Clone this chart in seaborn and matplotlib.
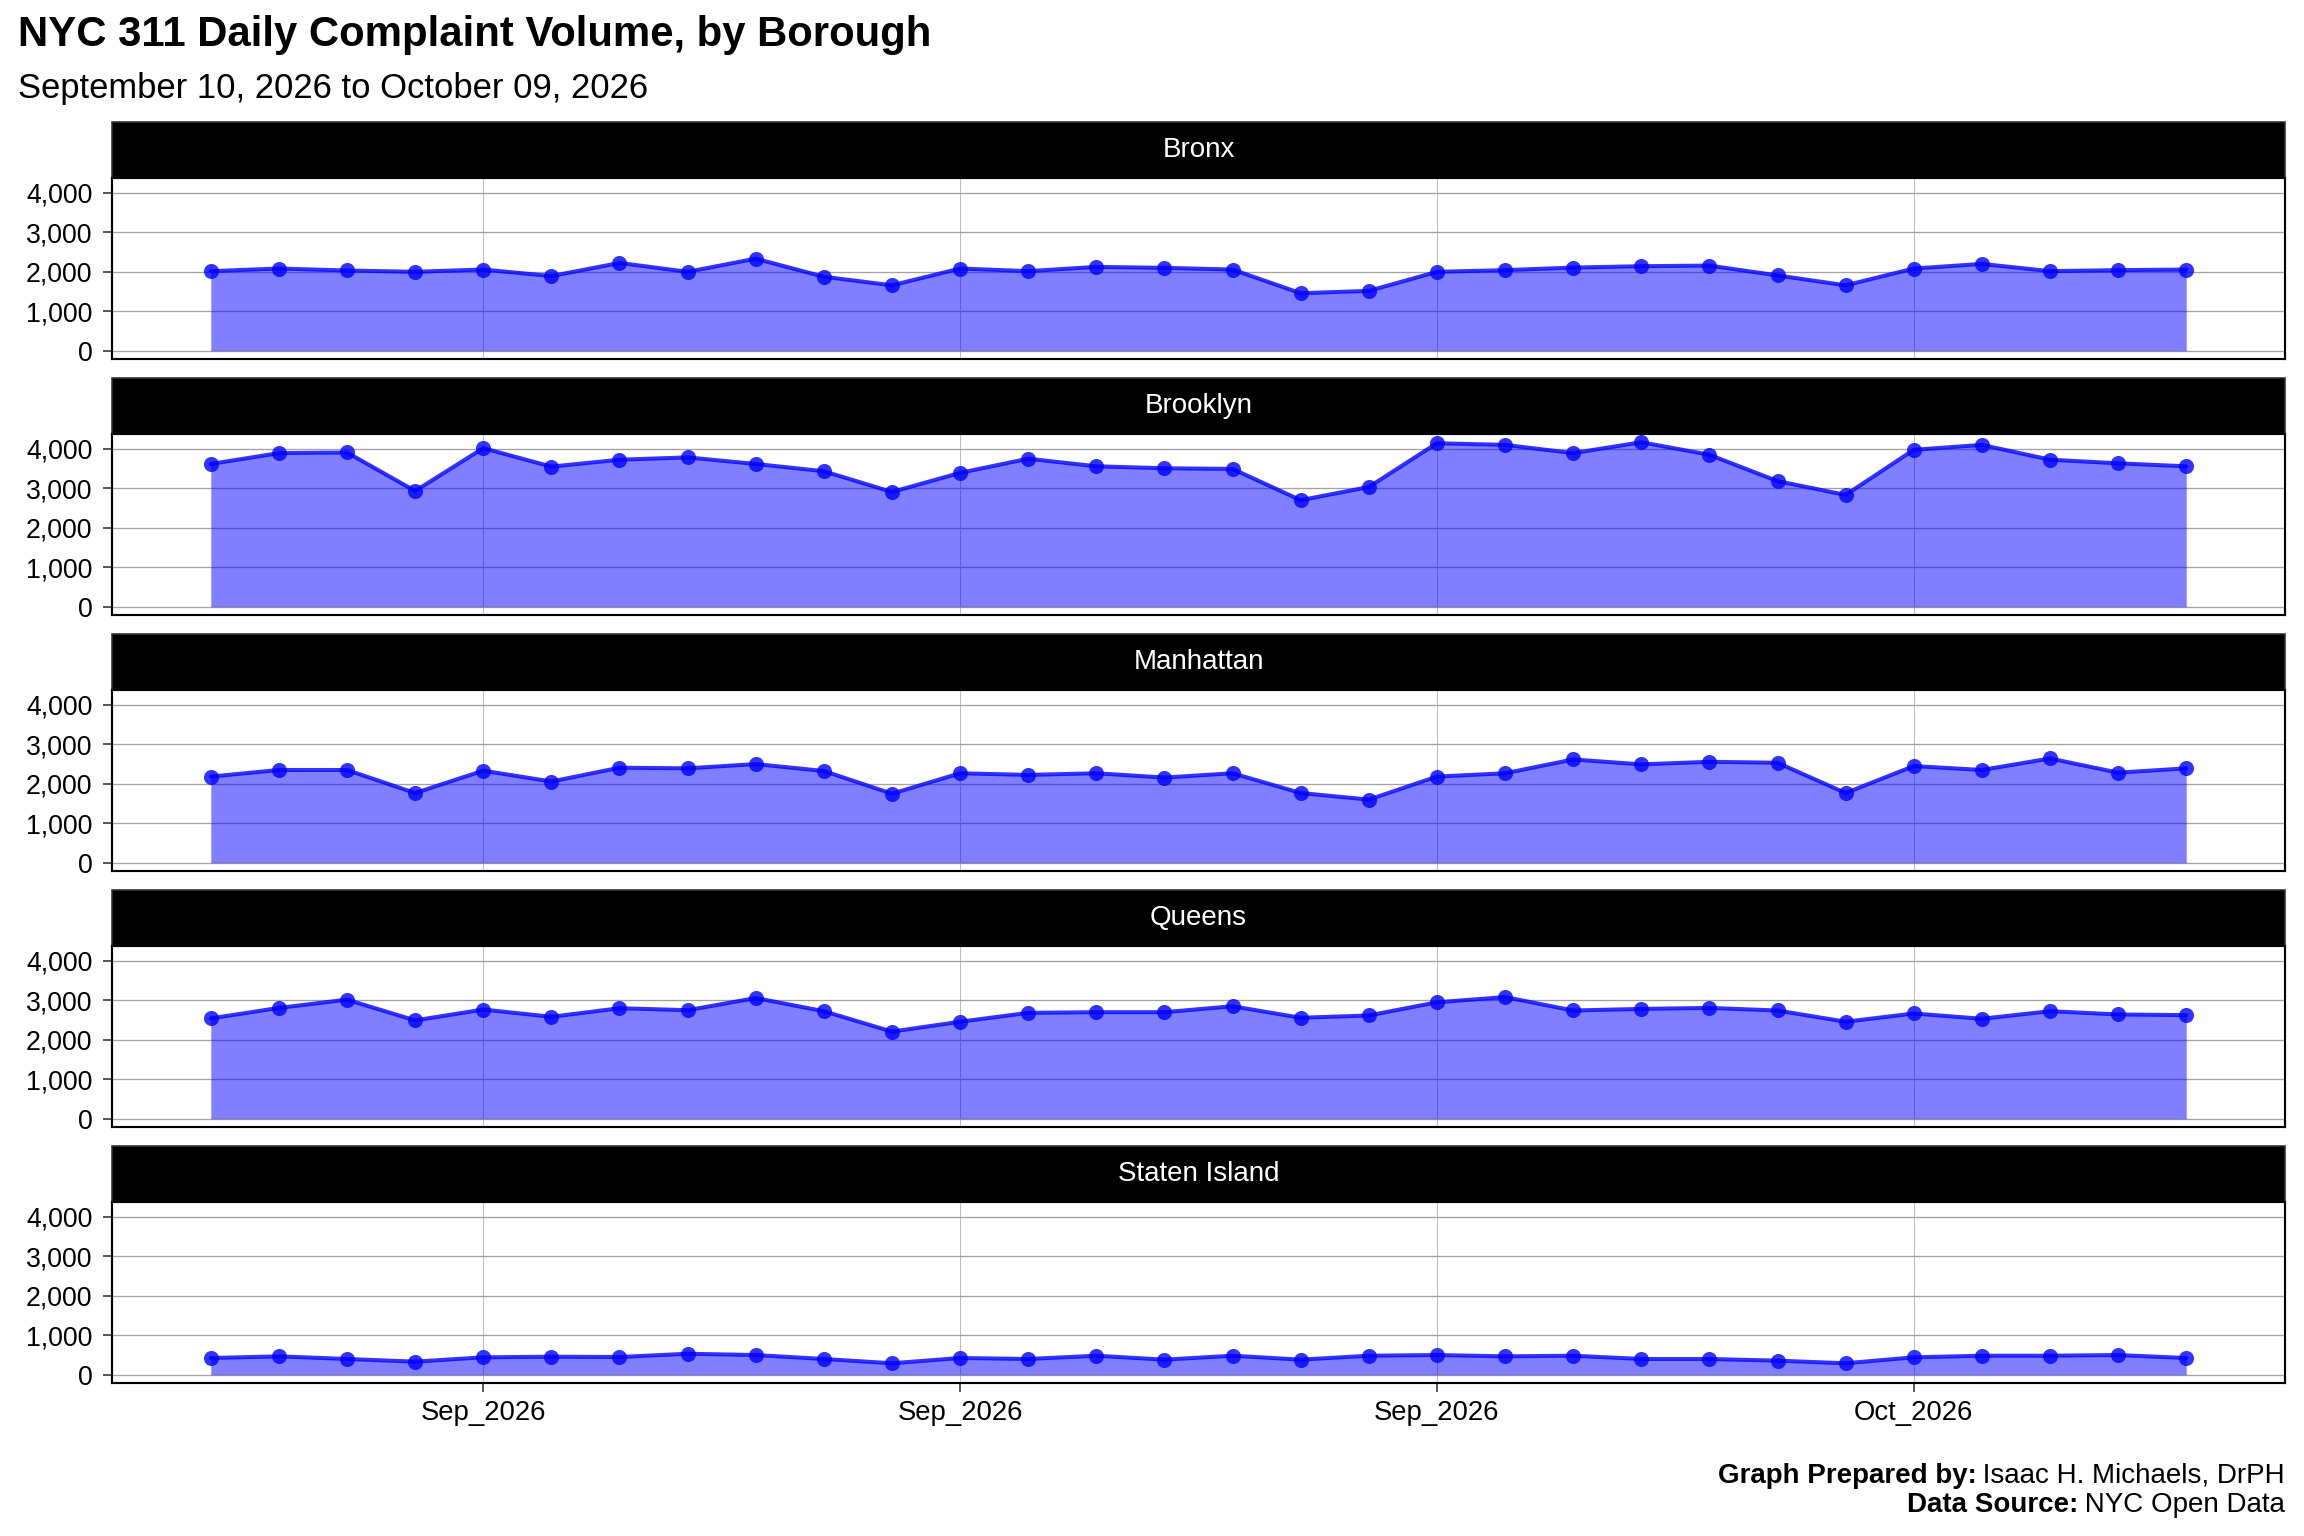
import pandas as pd
import matplotlib
matplotlib.use("Agg")
import matplotlib.pyplot as plt
import matplotlib.dates as mdates
from matplotlib.patches import Rectangle
from matplotlib.ticker import FuncFormatter
import seaborn as sns

# daily complaint counts, Sep 10 - Oct 09 2026
boroughs = ["Bronx", "Brooklyn", "Manhattan", "Queens", "Staten Island"]
start_date = "2026-09-10"

bronx = [2017, 2083, 2033, 2000, 2058, 1892, 2225, 2000, 2333, 1875,
         1658, 2083, 2017, 2125, 2100, 2058, 1458, 1517, 2000, 2042,
         2108, 2142, 2158, 1908, 1658, 2083, 2200, 2017, 2042, 2058]
brooklyn = [3617, 3892, 3908, 2933, 4017, 3550, 3725, 3783, 3617, 3433,
            2908, 3392, 3750, 3558, 3508, 3492, 2700, 3033, 4142, 4100,
            3892, 4167, 3850, 3183, 2833, 3975, 4100, 3725, 3633, 3558]
manhattan = [2183, 2350, 2350, 1767, 2333, 2058, 2408, 2392, 2500, 2325,
             1750, 2267, 2225, 2267, 2158, 2267, 1767, 1600, 2183, 2267,
             2617, 2492, 2558, 2533, 1767, 2450, 2350, 2642, 2283, 2392]
queens = [2542, 2808, 3017, 2492, 2767, 2583, 2800, 2750, 3058, 2725,
          2208, 2458, 2683, 2700, 2700, 2850, 2558, 2617, 2950, 3083,
          2742, 2783, 2808, 2742, 2458, 2667, 2533, 2725, 2642, 2625]
staten_island = [425, 467, 400, 333, 442, 458, 450, 533, 500, 400,
                 292, 425, 400, 483, 383, 483, 383, 483, 500, 467,
                 483, 400, 400, 358, 292, 442, 483, 483, 500, 425]

series = [bronx, brooklyn, manhattan, queens, staten_island]
dates = pd.date_range(start_date, periods=len(bronx), freq="D")
df = pd.concat(
    [pd.DataFrame({"date": dates, "complaints": v, "borough": b}) for b, v in zip(boroughs, series)],
    ignore_index=True,
)

sns.set_style("white")
plt.rcParams["font.family"] = ["Liberation Sans", "DejaVu Sans"]
plt.rcParams["text.color"] = "black"

W, H = 2304, 1536


def draw_area(data, **kws):
    ax = plt.gca()
    ax.fill_between(data["date"], data["complaints"], 0, color="blue", alpha=0.5, lw=0, zorder=1)


g = sns.FacetGrid(df, row="borough", row_order=boroughs, sharex=True, sharey=True,
                  height=1.6, aspect=7.5, despine=False)
g.map_dataframe(draw_area)
g.map_dataframe(sns.lineplot, x="date", y="complaints", color="blue", alpha=0.8, lw=1.5, zorder=2)
g.map_dataframe(sns.scatterplot, x="date", y="complaints", color="blue", alpha=0.8, s=32,
                linewidth=0, zorder=3)
g.set_axis_labels("", "")

fig = g.figure
fig.set_size_inches(12, 8)

ymax = df["complaints"].max()
pad_days = pd.Timedelta(days=0.05 * (len(dates) - 1))
strip_h = 56 / 181

for k, (ax, name) in enumerate(zip(g.axes.flat, boroughs)):
    ax.set_title("")
    ax.set_position([112 / W, 1 - (359 + 256 * k) / H, (2285 - 112) / W, 181 / H])
    ax.set_ylim(-0.05 * ymax, 1.05 * ymax)
    ax.set_xlim(dates[0] - pad_days, dates[-1] + pad_days)
    ax.set_yticks([0, 1000, 2000, 3000, 4000])
    ax.yaxis.set_major_formatter(FuncFormatter(lambda v, p: f"{int(v):,}"))
    ax.xaxis.set_major_locator(mdates.WeekdayLocator(byweekday=mdates.MO))
    ax.xaxis.set_major_formatter(mdates.DateFormatter("%b_%Y"))
    ax.set_axisbelow(True)
    ax.grid(axis="y", color="#a3a3a3", lw=0.5)
    ax.grid(axis="x", color="#b8b8b8", lw=0.35)
    for sp in ax.spines.values():
        sp.set_color("black")
        sp.set_linewidth(0.8)
    ax.tick_params(axis="y", left=True, length=3.4, width=0.6, color="#333333", pad=4,
                   labelsize=10, labelcolor="black")
    last = k == len(boroughs) - 1
    ax.tick_params(axis="x", bottom=last, length=3.4, width=0.6, color="#333333", pad=3,
                   labelsize=10.3, labelcolor="black", labelbottom=last)
    ax.add_patch(Rectangle((0, 1), 1, strip_h, transform=ax.transAxes, clip_on=False,
                           facecolor="black", edgecolor="#333333", lw=0.6))
    ax.text(0.5, 1 + strip_h / 2, name, transform=ax.transAxes, ha="center", va="center",
            color="white", fontsize=10.4)

fig.text(18 / W, 1 - 46 / H, "NYC 311 Daily Complaint Volume, by Borough",
         fontsize=15.7, fontweight="bold", ha="left", va="baseline")
fig.text(18 / W, 1 - 98 / H, "September 10, 2026 to October 09, 2026",
         fontsize=13, ha="left", va="baseline")

# caption: bold label + regular value, right aligned
renderer = fig.canvas.get_renderer()
x_right = 2285 / W
for base, label, value in [(1483, "Graph Prepared by:", " Isaac H. Michaels, DrPH"),
                           (1512, "Data Source:", " NYC Open Data")]:
    t = fig.text(x_right, 1 - base / H, value, fontsize=10.4, ha="right", va="baseline")
    bb = t.get_window_extent(renderer=renderer).transformed(fig.transFigure.inverted())
    fig.text(bb.x0, 1 - base / H, label, fontsize=10.4, fontweight="bold", ha="right", va="baseline")

fig.savefig("out.png", dpi=192)
plt.close(fig)
